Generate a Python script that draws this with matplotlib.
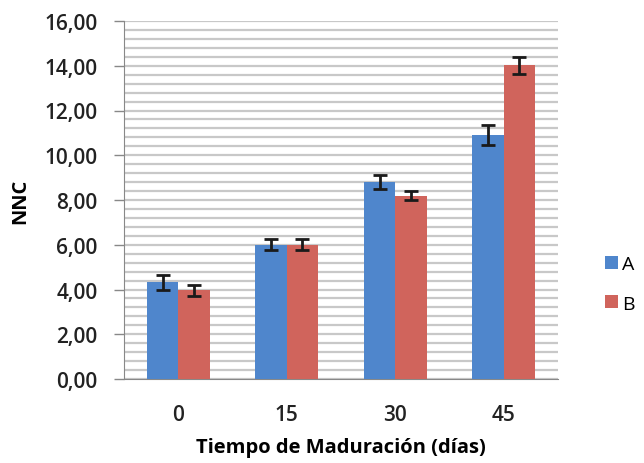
import numpy as np
import matplotlib
matplotlib.use('Agg')
import matplotlib.pyplot as plt
from matplotlib.ticker import MultipleLocator, FuncFormatter

# data
dias = ['0', '15', '30', '45']
nnc_a = [4.33, 6.0, 8.80, 10.89]
nnc_b = [3.97, 6.0, 8.20, 14.02]
err_a = [0.33, 0.25, 0.33, 0.45]
err_b = [0.25, 0.25, 0.18, 0.38]

plt.rcParams['font.family'] = ['Open Sans', 'DejaVu Sans']

fig = plt.figure(figsize=(6.44, 4.64), dpi=100)
ax = fig.add_axes([124/644, 1 - 380/464, (558-124)/644, (380-22)/464])

x = np.arange(len(dias))
w = 0.29
ek = dict(ecolor='#1a1a1a', elinewidth=2, capsize=5, capthick=2)
ax.bar(x - w/2, nnc_a, w, yerr=err_a, color='#4F86CC', label='A', error_kw=ek, zorder=3)
ax.bar(x + w/2, nnc_b, w, yerr=err_b, color='#D0645C', label='B', error_kw=ek, zorder=3)

ax.set_xlim(-0.5, 3.5)
ax.set_ylim(0, 16)
ax.yaxis.set_major_locator(MultipleLocator(2))
ax.yaxis.set_minor_locator(MultipleLocator(0.4))
ax.yaxis.set_major_formatter(FuncFormatter(lambda v, p: f'{v:.2f}'.replace('.', ',')))
ax.grid(axis='y', which='both', color='#C8C8C8', linewidth=1.6, zorder=0)

ax.set_xticks(x)
ax.set_xticklabels(dias)
ax.tick_params(axis='x', length=0, pad=18, labelsize=15)
ax.tick_params(axis='y', which='major', length=7, width=1, color='#888888', labelsize=15, pad=12)
ax.tick_params(axis='y', which='minor', length=0)
for lab in ax.get_xticklabels() + ax.get_yticklabels():
    lab.set_fontweight('semibold')
    lab.set_color('#222222')

for s in ['top', 'right']:
    ax.spines[s].set_visible(False)
ax.spines['left'].set_color('#888888')
ax.spines['bottom'].set_color('#888888')

ax.set_xlabel('Tiempo de Maduración (días)', fontsize=14.5, fontweight='bold', labelpad=9)
ax.set_ylabel('NNC', fontsize=14.5, fontweight='bold', labelpad=10)

fig.legend(loc='center left', bbox_to_anchor=(605/644, 1 - 285/464), frameon=False,
           borderpad=0, borderaxespad=0, fontsize=14, handlelength=0.65, handleheight=0.65,
           handletextpad=0.25, labelspacing=1.1)

fig.savefig('out.png', dpi=100)
